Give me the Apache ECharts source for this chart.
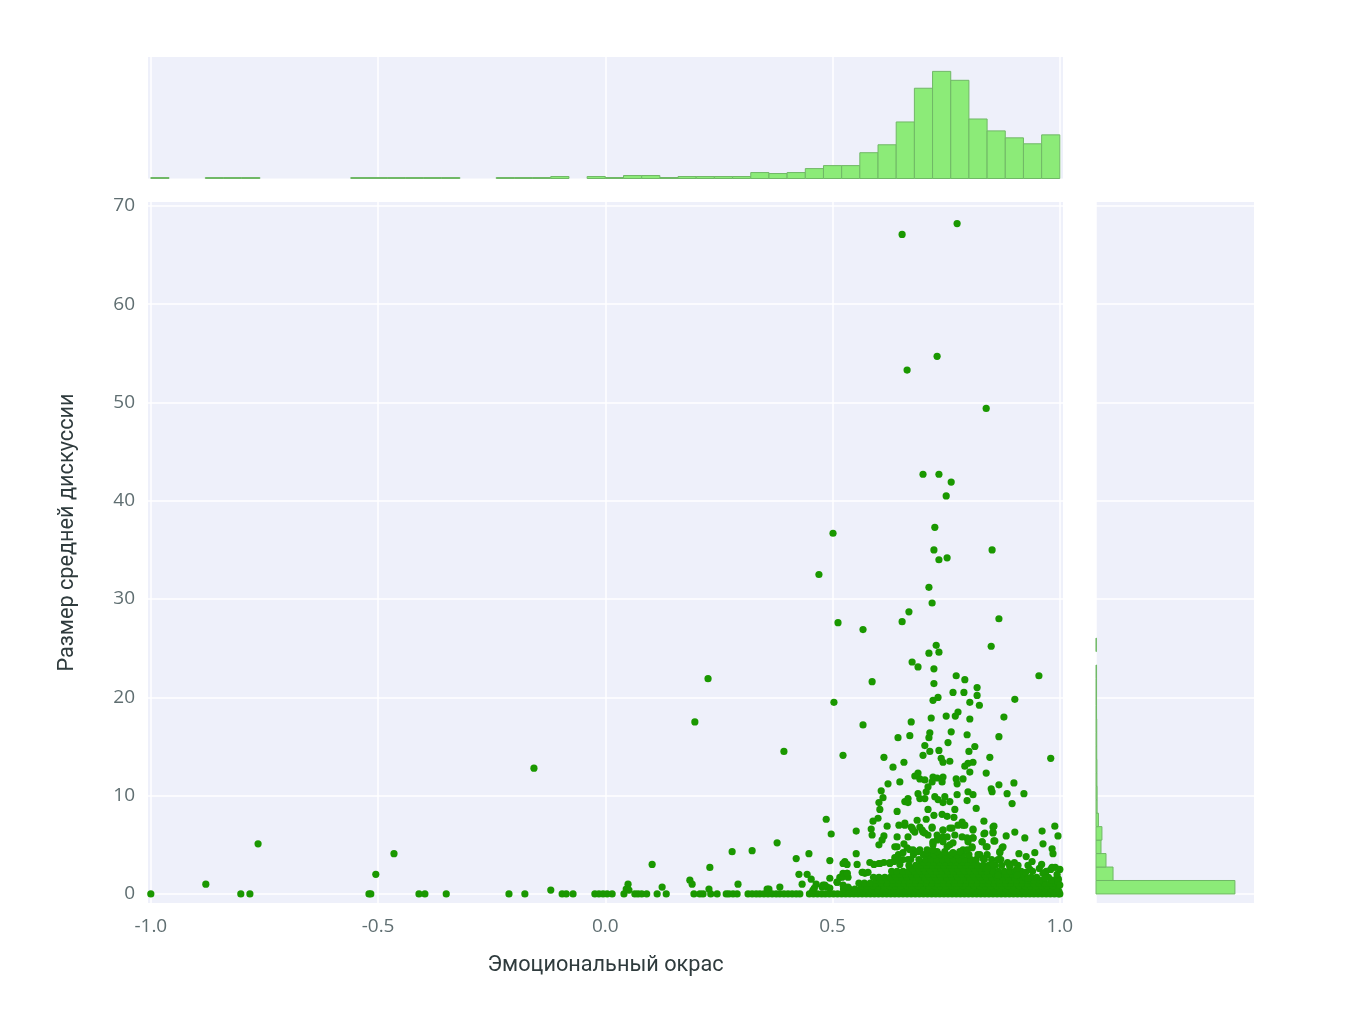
<!DOCTYPE html>
<html><head><meta charset="utf-8">
<script src="https://cdn.jsdelivr.net/npm/echarts@6/dist/echarts.min.js"></script>
<style>html,body{margin:0;background:#fff}#c{width:1352px;height:1016px}</style></head>
<body><div id="c"></div>
<script>
const xTicks = [-1, -0.5, 0, 0.5, 1];
const yTicks = [0, 10, 20, 30, 40, 50, 60, 70];
const xTitle = 'Эмоциональный окрас';
const yTitle = 'Размер средней дискуссии';

// histogram of sentiment: 50 bins of width 0.04 starting at -1
const sentimentBinStart = -1, sentimentBinWidth = 0.04;
const sentimentCounts = [1,0,0,1,1,1,0,0,0,0,0,1,1,1,1,1,1,0,0,1,1,1,2,0,2,1,3,3,1,2,2,2,2,6,5,6,10,13,13,26,34,57,91,108,99,60,48,41,35,44];
// histogram of discussion size: bins of width 1.37 starting at 0 (only the visible ones)
const sizeBinStart = 0, sizeBinWidth = 1.37;
const sizeCounts = [750,92,54,27,32,13,6,6,5,5,4,4,4,3,3,3,3,0,2];

// points lying on y = 0
const zeroRowX = [-1,-0.802,-0.782,-0.52,-0.516,-0.41,-0.397,-0.35,-0.212,-0.177,-0.095,-0.086,-0.071,-0.023,-0.014,-0.005,0.004,0.015,0.041,0.065,0.072,0.08,0.091,0.114,0.134,0.195,0.208,0.215,0.232,0.246,0.266,0.272,0.281,0.29,0.314,0.323,0.332,0.34,0.349,0.358,0.367,0.376,0.384,0.393,0.402,0.411,0.42,0.428,0.449,0.458,0.467,0.476,0.484,0.493,0.502,0.511,0.52,0.529,0.538,0.547,0.556,0.565,0.574,0.583,0.592,0.601,0.61,0.619,0.628,0.637,0.646,0.655,0.664,0.673,0.682,0.691,0.7,0.709,0.718,0.727,0.736,0.745,0.754,0.763,0.772,0.781,0.79,0.799,0.808,0.817,0.826,0.835,0.844,0.853,0.862,0.871,0.88,0.889,0.898,0.907,0.916,0.925,0.934,0.943,0.952,0.961,0.97,0.979,0.988,0.997,1];
// dense low rows of the cloud
const row03X = [0.53,0.543,0.555,0.567,0.58,0.592,0.605,0.617,0.629,0.642,0.654,0.666,0.678,0.69,0.703,0.715,0.727,0.74,0.752,0.765,0.777,0.789,0.801,0.814,0.826,0.839,0.851,0.863,0.875,0.888,0.9,0.912,0.925,0.937,0.949,0.962,0.974,0.986,0.998];
const row05X = [0.524,0.537,0.549,0.561,0.574,0.586,0.599,0.611,0.622,0.636,0.648,0.659,0.672,0.684,0.697,0.708,0.721,0.733,0.746,0.758,0.771,0.783,0.795,0.807,0.82,0.832,0.845,0.856,0.869,0.881,0.894,0.906,0.918,0.931,0.943,0.955,0.968,0.98,0.992];
const row08X = [0.564,0.576,0.589,0.601,0.613,0.626,0.638,0.651,0.663,0.675,0.688,0.7,0.712,0.725,0.737,0.75,0.762,0.774,0.787,0.799,0.812,0.824,0.836,0.849,0.861,0.873,0.886,0.898,0.911,0.923,0.935,0.948,0.96,0.972,0.985,0.997];
const row11X = [0.558,0.57,0.583,0.595,0.607,0.62,0.632,0.645,0.657,0.669,0.682,0.694,0.706,0.719,0.731,0.744,0.756,0.768,0.781,0.793,0.806,0.818,0.83,0.843,0.855,0.867,0.88,0.892,0.905,0.917,0.929,0.942,0.954,0.966,0.979,0.991];
const row14X = [0.596,0.608,0.621,0.633,0.646,0.658,0.67,0.683,0.695,0.708,0.72,0.732,0.745,0.757,0.769,0.782,0.794,0.807,0.819,0.831,0.844,0.856,0.868,0.881,0.893,0.906,0.918,0.93,0.943,0.956,0.982];
const row17X = [0.59,0.602,0.615,0.627,0.64,0.652,0.664,0.677,0.689,0.702,0.714,0.726,0.739,0.751,0.763,0.776,0.788,0.801,0.813,0.825,0.838,0.85,0.862,0.875,0.887,0.9,0.912,0.924,0.937,0.949,0.975,0.994];
const row20X = [0.636,0.648,0.661,0.673,0.686,0.698,0.71,0.723,0.735,0.747,0.76,0.772,0.785,0.797,0.809,0.822,0.834,0.846,0.859,0.871,0.884,0.896,0.908,0.921];
const row23X = [0.63,0.642,0.655,0.667,0.68,0.692,0.704,0.717,0.729,0.741,0.754,0.766,0.779,0.791,0.803,0.816,0.828,0.84,0.853,0.865,0.878,0.89,0.902,0.915,0.94,0.97];
const row26X = [0.675,0.689,0.701,0.713,0.726,0.738,0.75,0.763,0.775,0.788,0.8,0.812,0.825,0.837,0.851];
const row29X = [0.668,0.683,0.695,0.707,0.72,0.732,0.744,0.757,0.769,0.782,0.794,0.806,0.819,0.831,0.844,0.858,0.872,0.89,0.908,0.93];
const row32X = [0.7,0.711,0.723,0.735,0.748,0.76,0.772,0.785,0.797,0.81];
const row35X = [0.655,0.672,0.69,0.705,0.717,0.729,0.742,0.754,0.766,0.779,0.791,0.804,0.816,0.834,0.85,0.868];
const row40X = [0.645,0.678,0.7,0.712,0.724,0.736,0.749,0.761,0.773,0.786,0.8,0.82,0.84];

// individually read points [sentiment, size]
const farPoints = [[0.774,68.2],[0.653,67.1],[0.664,53.3],[0.73,54.7],[0.838,49.4],[0.699,42.7],[0.734,42.7],[0.761,41.9],[0.75,40.5],[0.725,37.3],[0.501,36.7],[0.723,35],[0.851,35],[0.752,34.2],[0.734,34],[0.47,32.5],[0.712,31.2],[0.719,29.6],[0.668,28.7],[0.866,28],[0.653,27.7],[0.512,27.6],[0.567,26.9],[0.728,25.3],[0.849,25.2],[0.712,24.5],[0.734,24.6],[0.675,23.6],[0.688,23.1],[0.723,22.9],[0.954,22.2],[0.772,22.2],[0.791,21.8],[0.226,21.9],[0.587,21.6],[0.723,21.4],[0.818,21],[0.765,20.5],[0.789,20.5],[0.818,20.2],[0.901,19.8],[0.732,20],[0.721,19.7],[0.503,19.5],[0.802,19.5],[0.823,19.2],[0.776,18.5],[0.75,18.1],[0.77,18.1],[0.877,18],[0.717,17.9],[0.802,17.8],[0.197,17.5],[0.567,17.2],[0.673,17.5],[0.714,16.4],[0.644,15.9],[0.67,16.1],[0.712,15.9],[0.761,16.5],[0.796,16.2],[0.866,16],[0.393,14.5],[0.523,14.1],[0.98,13.8],[-0.157,12.8]];
const midPoints = [[0.703,15.1],[0.754,15.4],[0.714,14.5],[0.734,14.6],[0.699,14.1],[0.813,15],[0.8,14.5],[0.846,13.9],[0.613,13.9],[0.739,13.8],[0.743,13.4],[0.758,13.5],[0.657,13.4],[0.633,12.9],[0.809,13.4],[0.798,13.3],[0.791,13],[0.802,12.4],[0.838,12.3],[0.688,12.3],[0.681,12],[0.692,11.7],[0.703,11.6],[0.721,11.9],[0.743,11.9],[0.73,11.8],[0.719,11.4],[0.741,11.4],[0.772,11.7],[0.787,11.7],[0.774,11.2],[0.622,11.2],[0.648,11.4],[0.71,10.9],[0.706,10.4],[0.607,10.5],[0.849,10.7],[0.851,10.4],[0.866,11.1],[0.899,11.3],[0.884,10.2],[0.921,10.2],[0.798,10.4],[0.809,10.1],[0.774,10.1],[0.688,10.2],[0.611,9.8],[0.692,9.7],[0.703,9.7],[0.725,9.9],[0.732,9.6],[0.747,9.9],[0.743,9.3],[0.758,9.4],[0.666,9.7],[0.659,9.4],[0.666,9.3],[0.796,9.5],[0.602,9.3],[0.895,9.2],[0.816,8.7],[0.604,8.6],[0.71,8.6],[0.642,8.4],[0.769,8.6],[0.723,8],[0.741,8.1],[0.752,7.9],[0.767,7.8],[0.6,7.7],[0.589,7.4],[0.686,7.5],[0.706,7.6],[0.486,7.6],[0.833,7.4],[0.785,7.3],[0.776,7],[0.791,7],[0.659,7.2],[0.646,7],[0.673,6.8],[0.692,6.8],[0.719,6.8],[0.743,6.5],[0.763,6.7],[0.809,6.6],[0.855,6.9],[0.989,6.9],[0.62,6.9],[0.552,6.4],[0.585,6.6],[0.587,6],[0.961,6.4],[0.901,6.3],[0.853,6.3],[0.833,6.1],[0.497,6.1],[0.882,5.9],[0.996,5.9],[0.923,5.7],[0.613,5.9],[0.642,5.8],[0.677,6.5],[0.699,6.3],[0.71,6],[0.73,6],[0.752,5.8],[0.769,6],[0.785,5.8],[0.666,5.8],[0.809,5.7],[0.798,5.3],[0.609,5.5],[0.602,5],[0.657,5.1],[0.855,5.4],[0.829,5.3],[0.963,5.1],[0.765,5.2],[0.743,5.3],[0.752,4.8],[0.721,5.2],[0.637,4.8],[0.67,4.5],[0.688,4.3],[0.708,4.5],[0.721,4.5],[0.807,4.7],[0.796,4.5],[0.838,4.8],[0.875,4.8],[0.868,4.3],[0.983,4.6],[0.985,4.1],[0.91,4.1],[0.926,3.8],[0.945,4.2],[0.552,4.1]];
const lowPoints = [[-0.879,1],[-0.764,5.1],[-0.505,2],[-0.465,4.1],[-0.12,0.4],[0.05,1],[0.046,0.5],[0.052,0.4],[0.103,3],[0.125,0.7],[0.186,1.4],[0.191,1],[0.228,0.5],[0.292,1],[0.279,4.3],[0.323,4.4],[0.378,5.2],[0.23,2.7],[0.356,0.5],[0.36,0.5],[0.384,0.7],[0.42,3.6],[0.448,4.1],[0.426,2],[0.444,2],[0.453,1.5],[0.433,1],[0.464,1],[0.494,1.6],[0.494,3.4],[0.527,3.3],[0.532,3],[0.554,3],[0.565,2.2],[0.571,2.1],[0.578,2.2],[0.523,2.1],[0.532,2.1],[0.516,1.7],[0.51,1.2],[0.534,1.7],[0.479,0.9],[0.488,0.7],[0.494,0.6],[0.477,0.7],[0.455,0.2],[0.457,0.4],[0.46,0.6],[0.523,0.9],[0.534,0.7],[0.591,3],[0.602,3.1],[0.613,3.2],[0.626,3.1],[0.635,3.3],[0.646,3.5],[0.9,3.2],[0.87,3.5],[0.885,3.2],[0.905,2.5],[0.925,2.2],[0.955,2.6],[0.98,2.5],[0.99,2.7],[0.96,3],[0.997,1.5]];
const rightClusterPoints = [[0.743,6.5],[0.758,6.7],[0.787,7],[0.809,6.5],[0.796,5.7],[0.809,5.7],[0.829,5.3],[0.835,6.2],[0.853,6.2],[0.853,6.8],[0.857,5.4],[0.84,4.8],[0.807,4.8],[0.787,4.5],[0.824,4],[0.831,3.6],[0.873,4.7],[0.868,4.2],[0.864,3.5],[0.853,3],[0.84,2.6],[0.89,2.8],[0.934,2.5],[0.983,2.7],[1,2.5],[0.994,2],[0.963,2.1],[0.967,1.6],[0.906,1.9],[0.864,1.9],[0.93,1.6],[0.996,1.2],[1,0.9],[0.939,3.3],[0.743,5.8],[0.73,5.5],[0.721,5],[0.758,5],[0.765,4.2],[0.747,4.3],[0.73,4.3],[0.78,4.3]];
const leftClusterPoints = [[0.642,4.8],[0.655,4.2],[0.664,4.7],[0.677,4.5],[0.692,4.5],[0.708,4.2],[0.721,5.3],[0.703,6.2],[0.719,6.7],[0.675,6.7],[0.659,7],[0.681,6.3],[0.697,6.5],[0.637,3.7],[0.648,3],[0.626,3.2],[0.666,3.5],[0.604,3.1],[0.582,3.2],[0.567,2.2],[0.523,3.1],[0.521,1.7],[0.532,2.1],[0.51,1.2],[0.483,0.9]];

const scatterData = [
  ...zeroRowX.map(x => [x, 0]),
  ...row03X.map(x => [x, 0.25]),
  ...row05X.map(x => [x, 0.5]),
  ...row08X.map(x => [x, 0.8]),
  ...row11X.map(x => [x, 1.1]),
  ...row14X.map(x => [x, 1.4]),
  ...row17X.map(x => [x, 1.7]),
  ...row20X.map(x => [x, 2.0]),
  ...row23X.map(x => [x, 2.3]),
  ...row26X.map(x => [x, 2.6]),
  ...row29X.map(x => [x, 2.9]),
  ...row32X.map(x => [x, 3.2]),
  ...row35X.map(x => [x, 3.5]),
  ...row40X.map(x => [x, 4.0]),
  ...lowPoints, ...leftClusterPoints, ...rightClusterPoints, ...midPoints, ...farPoints
];
const topBins = sentimentCounts.map((c, i) => [sentimentBinStart + i * sentimentBinWidth, sentimentBinStart + (i + 1) * sentimentBinWidth, c]);
const rightBins = sizeCounts.map((c, i) => [sizeBinStart + i * sizeBinWidth, sizeBinStart + (i + 1) * sizeBinWidth, c]);

const PLOT = '#EEF0FA', GRID = '#FFFFFF', TICK = '#5F6E71', TITLE = '#2F3B3D';
const FILL = '#8CEB78', EDGE = '#70B866', DOT = '#1A9800';
const tickFont = { color: TICK, fontFamily: 'Open Sans', fontSize: 19 };
const splitLine = { show: true, lineStyle: { color: GRID, width: 1.5 } };
const xRange = { min: -1.0062, max: 1.007 };
const yRange = { min: -0.92, max: 70.4 };
const titleFont = { color: TITLE, fontFamily: 'Roboto', fontSize: 21.7 };

const chart = echarts.init(document.getElementById('c'), null, { renderer: 'canvas' });
chart.setOption({
  animation: false,
  backgroundColor: '#fff',
  grid: [
    { left: 148, top: 202, width: 915, height: 701, show: true, backgroundColor: PLOT, borderWidth: 0 },
    { left: 148, top: 57, width: 915, height: 121.5, show: true, backgroundColor: PLOT, borderWidth: 0 },
    { left: 1096, top: 202, width: 158, height: 701, show: true, backgroundColor: PLOT, borderWidth: 0 }
  ],
  xAxis: [
    { gridIndex: 0, type: 'value', ...xRange, name: xTitle, nameLocation: 'middle', nameGap: 52,
      nameTextStyle: { ...titleFont },
      axisLine: { show: false }, axisTick: { show: false, customValues: xTicks },
      axisLabel: { ...tickFont, margin: 14, customValues: xTicks, formatter: v => v.toFixed(1) }, splitLine },
    { gridIndex: 1, type: 'value', ...xRange, axisLine: { show: false },
      axisTick: { show: false, customValues: xTicks }, axisLabel: { show: false, customValues: xTicks }, splitLine },
    { gridIndex: 2, type: 'value', min: 0, max: 853, axisLine: { show: false },
      axisTick: { show: false, customValues: [0] }, axisLabel: { show: false, customValues: [0] }, splitLine }
  ],
  yAxis: [
    { gridIndex: 0, type: 'value', ...yRange, name: yTitle, nameLocation: 'middle', nameGap: 69,
      nameTextStyle: { ...titleFont, padding: [0, 0, 0, 40] },
      axisLine: { show: false }, axisTick: { show: false, customValues: yTicks },
      axisLabel: { ...tickFont, margin: 13, customValues: yTicks }, splitLine },
    { gridIndex: 1, type: 'value', min: 0, max: 122.5, axisLine: { show: false }, axisTick: { show: false },
      axisLabel: { show: false }, splitLine: { show: false } },
    { gridIndex: 2, type: 'value', ...yRange, axisLine: { show: false }, axisTick: { show: false, customValues: yTicks },
      axisLabel: { show: false, customValues: yTicks }, splitLine }
  ],
  series: [
    { type: 'scatter', xAxisIndex: 0, yAxisIndex: 0, data: scatterData, symbolSize: 7.2,
      itemStyle: { color: DOT, opacity: 1 }, clip: false, large: false },
    { type: 'custom', xAxisIndex: 1, yAxisIndex: 1, data: topBins, encode: { x: [0, 1], y: 2 },
      renderItem: (p, api) => {
        const a = api.coord([api.value(0), 0]), b = api.coord([api.value(1), api.value(2)]);
        const h = a[1] - b[1];
        if (h <= 0) return null;
        return { type: 'rect', shape: { x: a[0], y: b[1], width: b[0] - a[0], height: h },
          style: { fill: FILL, stroke: EDGE, lineWidth: 1 } };
      } },
    { type: 'custom', xAxisIndex: 2, yAxisIndex: 2, data: rightBins, encode: { x: 2, y: [0, 1] },
      renderItem: (p, api) => {
        const a = api.coord([0, api.value(0)]), b = api.coord([api.value(2), api.value(1)]);
        const w = b[0] - a[0];
        if (w <= 0) return null;
        return { type: 'rect', shape: { x: a[0], y: b[1], width: w, height: a[1] - b[1] },
          style: { fill: FILL, stroke: EDGE, lineWidth: 1 } };
      } }
  ]
});
</script></body></html>
